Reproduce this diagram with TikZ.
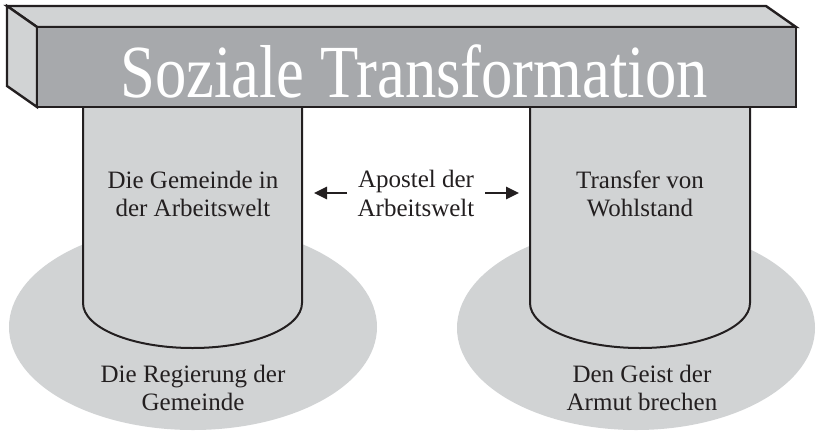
\documentclass[tikz,border=0pt]{standalone}
\usepackage{fontspec}
\setmainfont{Liberation Serif}
\usetikzlibrary{arrows.meta}
\definecolor{lgray}{HTML}{D1D3D4}
\definecolor{mgray}{HTML}{A7A9AC}
\definecolor{ink}{HTML}{231F20}
\tikzset{
  outline/.style={draw=ink, line width=2.4pt, line join=miter},
  pillar/.style={fill=lgray, draw=ink, line width=2pt},
  base disk/.style={fill=lgray},
  label/.style={align=center, font=\fontsize{25}{28.5}\selectfont, text=ink, inner sep=0pt},
  low label/.style={align=center, font=\fontsize{25}{27.5}\selectfont, text=ink, inner sep=0pt},
  arr/.style={draw=ink, line width=2.6pt, -{Triangle[length=13pt,width=12pt]}}
}
\begin{document}
\begin{tikzpicture}[x=1pt, y=-1pt]
\useasboundingbox (0,0) rectangle (818,432);
% base discs
\fill[base disk] (193,327) ellipse [x radius=184pt, y radius=103pt];
\fill[base disk] (636,328) ellipse [x radius=179pt, y radius=102pt];
% pillars
\path[pillar] (83,100) -- (83,303) arc[start angle=180, end angle=360, x radius=109.5pt, y radius=45pt] -- (302,100);
\path[pillar] (530,100) -- (530,303) arc[start angle=180, end angle=360, x radius=110pt, y radius=45pt] -- (750,100);
% beam
\path[outline, fill=lgray] (7,6) -- (766,6) -- (796,27) -- (37,27) -- cycle;
\path[outline, fill=lgray] (7,6) -- (37,27) -- (37,107) -- (7,86) -- cycle;
\path[outline, fill=mgray] (37,27) rectangle (796,107);
\node[anchor=base, text=white, inner sep=0pt] (title) at (414,97)
  {\scalebox{0.835}[1]{\fontsize{75}{80}\selectfont Soziale Transformation}};
% labels (base anchor = baseline of last line)
\node[label, anchor=base] (gem) at (193,216.5) {Die Gemeinde in\\der Arbeitswelt};
\node[label, anchor=base] (trans) at (640,216.5) {Transfer von\\Wohlstand};
\node[label, anchor=base] (apo) at (416,216) {Apostel der\\Arbeitswelt};
\node[low label, anchor=base] (reg) at (193,410) {Die Regierung der\\Gemeinde};
\node[low label, anchor=base] (geist) at (642,410) {Den Geist der\\Armut brechen};
% arrows
\coordinate (ls) at (347,193);
\coordinate (la) at (314,193);
\coordinate (rs) at (485,193);
\coordinate (ra) at (519,193);
\draw[arr] (ls) -- (la);
\draw[arr] (rs) -- (ra);
\end{tikzpicture}
\end{document}
